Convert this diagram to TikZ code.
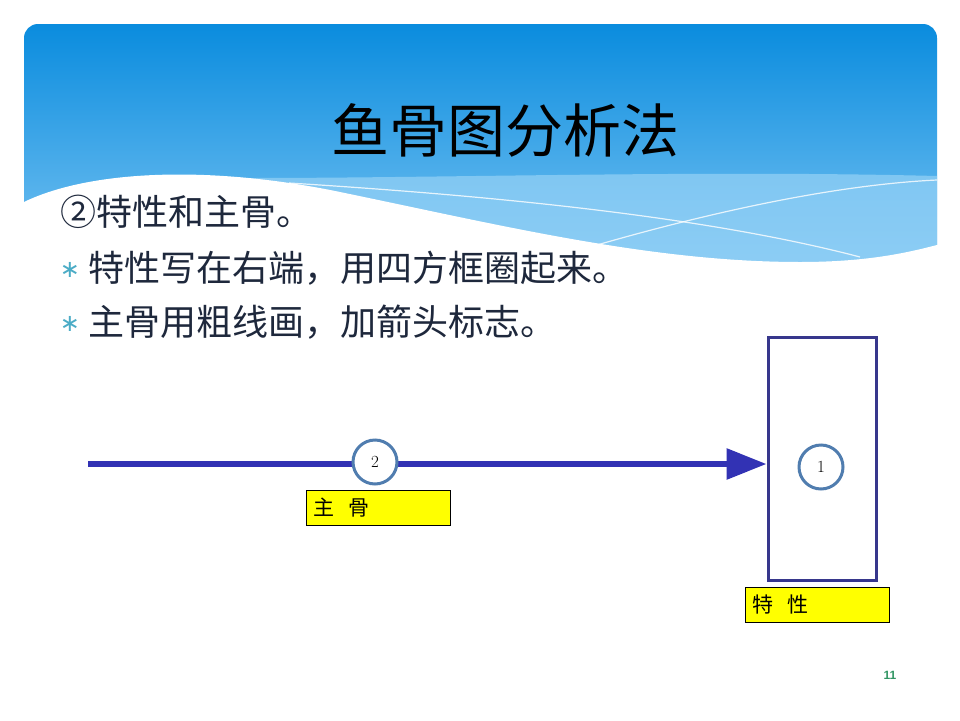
\documentclass[tikz,border=0pt]{standalone}
\usepackage{fontspec}
\newfontfamily\cjk{Noto Sans CJK SC}
\newfontfamily\symfont{DejaVu Sans}
\newfontfamily\numfont{Liberation Sans}
\usetikzlibrary{arrows.meta,positioning}

\definecolor{headtop}{RGB}{10,140,222}
\definecolor{headmid}{RGB}{55,165,232}
\definecolor{headlow}{RGB}{130,200,244}
\definecolor{bandblue}{RGB}{150,210,246}
\definecolor{bodyink}{RGB}{30,40,60}
\definecolor{starblue}{RGB}{75,172,198}
\definecolor{spineblue}{RGB}{50,50,180}
\definecolor{boxnavy}{RGB}{55,55,140}
\definecolor{ringblue}{RGB}{80,125,175}
\definecolor{tagyellow}{RGB}{255,255,0}
\definecolor{pagegreen}{RGB}{50,150,100}

\begin{document}
\begin{tikzpicture}[x=1pt,y=-1pt,
  bullet/.style={anchor=west,inner sep=0pt,text=bodyink,font=\cjk\fontsize{36}{36}\selectfont},
  starmark/.style={inner sep=0pt,text=starblue,font=\symfont\fontsize{24}{24}\selectfont},
  bonecircle/.style={circle,draw=ringblue,line width=3pt,fill=white,minimum size=44pt,inner sep=0pt,font=\fontsize{17}{17}\selectfont},
  tagbox/.style={rectangle,draw=black,line width=0.8pt,fill=tagyellow,anchor=north west,text width=130pt,inner xsep=7pt,minimum height=35pt,align=left,font=\cjk\fontsize{21}{21}\selectfont}]
\fill[white] (0,0) rectangle (960,720);
\useasboundingbox (0,0) rectangle (960,720);

% Header with wave
\shade[top color=headtop,middle color=headmid,bottom color=headlow,rounded corners=14pt] (24,24) rectangle (937,290);
\fill[bandblue,opacity=0.7] (250,178) .. controls (450,178) and (700,170) .. (937,176) -- (937,290) -- (250,290) -- cycle;
\fill[white] (24,202) .. controls (90,170) and (210,165) .. (340,192) .. controls (500,225) and (650,262) .. (800,262) .. controls (870,262) and (910,252) .. (941,244) -- (941,310) -- (20,310) -- cycle;
\draw[white,line width=1.2pt,opacity=0.8] (289,183) .. controls (480,195) and (700,215) .. (860,257);
\draw[white,line width=1.2pt,opacity=0.8] (590,247) .. controls (700,215) and (830,185) .. (937,180);

\node[font=\cjk\fontsize{58}{58}\selectfont] (title) at (505,130) {鱼骨图分析法};

% Bullet text
\node[bullet] (pt0) at (60,212) {②特性和主骨。};
\node[bullet] (pt1) at (88,268) {特性写在右端，用四方框圈起来。};
\node[bullet] (pt2) at (88,322) {主骨用粗线画，加箭头标志。};
\node[starmark] (star1) at (70,270) {∗};
\node[starmark] (star2) at (70,324) {∗};

% Characteristic box and spine
\node[rectangle,draw=boxnavy,line width=3pt,fill=white,minimum width=108pt,minimum height=243pt] (spec) at (822,458.5) {};
\node[tagbox] (spectag) at (745,587) {特\hspace{14pt}性};
\node[tagbox] (spinetag) at (306,490) {主\hspace{14pt}骨};

\coordinate (tail) at (88,464);
\draw[spineblue,line width=6pt,-{Triangle[length=40pt,width=30pt]}] (tail) -- (tail -| spec.west);

\node[bonecircle] (c2) at (375,462) {2};
\node[bonecircle] (c1) at (821,467) {1};

\node[font=\numfont\bfseries\fontsize{12}{12}\selectfont,text=pagegreen] (pageno) at (890,675) {11};
\end{tikzpicture}
\end{document}
